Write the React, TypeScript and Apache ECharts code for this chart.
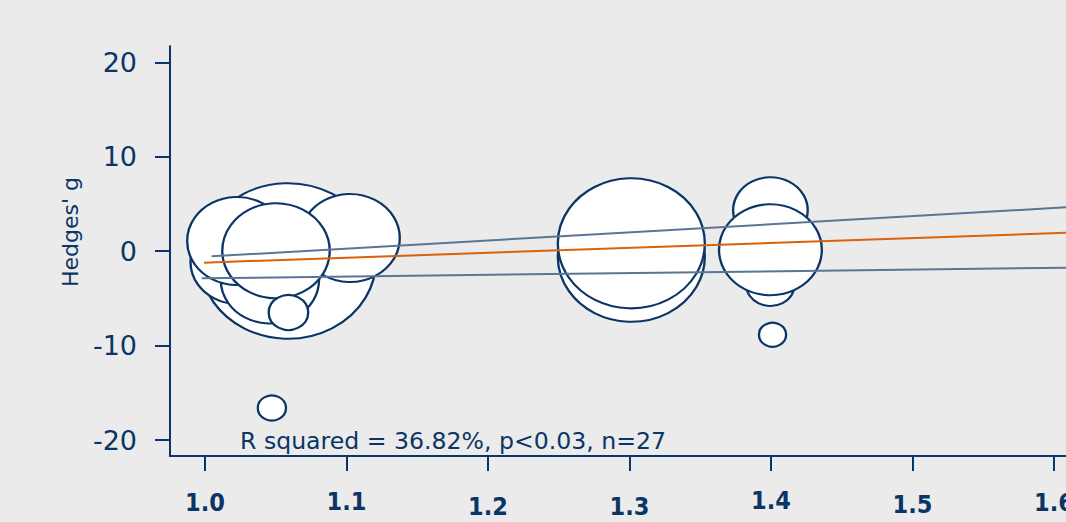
import React, { useEffect, useRef } from "react";
import * as echarts from "echarts";

// ---- data ----
const xTickValues = [1.0, 1.1, 1.2, 1.3, 1.4, 1.5, 1.6];
const yTickValues = [-20, -10, 0, 10, 20];

// studies (listed back-to-front)
const studyX = [1.0587, 1.0233, 1.0459, 1.0226, 1.1025, 1.0502, 1.0590, 1.0473, 1.3013, 1.3013, 1.3996, 1.3996, 1.3996, 1.4011];
const studyY = [-1.04, -1.15, -3.06, 1.07, 1.39, 0.04, -6.5, -16.61, -0.59, 0.83, 4.33, -3.53, 0.15, -8.85];
const studyWeight = [60.5, 17.6, 18.9, 19.4, 19.4, 22.6, 3.06, 1.56, 42.3, 42.3, 10.9, 4.62, 20.7, 1.44];

// meta-regression fit and confidence bounds (end points)
const fitX = [0.9993, 1.6085];
const fitY = [-1.22, 1.95];
const ciUpperX = [1.0047, 1.6085];
const ciUpperY = [-0.55, 4.64];
const ciLowerX = [0.9977, 1.6085];
const ciLowerY = [-2.88, -1.75];

const yAxisTitle = "Hedges' g";
const annotation = "R squared = 36.82%, p<0.03, n=27";

export default function App() {
  const ref = useRef<HTMLDivElement>(null);

  useEffect(() => {
    if (!ref.current) return;
    const chart = echarts.init(ref.current, null, { renderer: "svg" });
    const navy = "#0b3566";
    const labelShift = [2, 1, 6, 6, 0, 4, 2];
    const rich: Record<string, any> = {};
    labelShift.forEach((s, i) => {
      rich["j" + i] = {
        fontFamily: '"Liberation Sans Narrow", "DejaVu Sans Condensed", sans-serif',
        fontWeight: "bold",
        fontSize: 25,
        color: navy,
        padding: [s, 0, 0, 0],
      };
    });

    const bubbleData = studyX.map((x, i) => {
      const h = 20 * Math.sqrt(studyWeight[i]);
      return { value: [x, studyY[i]], symbolSize: [h * 1.13, h] };
    });

    chart.setOption({
      animation: false,
      backgroundColor: "#ebebeb",
      grid: { left: 170, top: 46.2, width: 954.75, height: 409.9, containLabel: false },
      xAxis: {
        type: "value",
        min: 0.9753,
        max: 1.65,
        splitLine: { show: false },
        axisLine: { show: true, onZero: false, lineStyle: { color: navy, width: 2 } },
        axisTick: { show: true, length: 15, customValues: xTickValues, lineStyle: { color: navy, width: 2 } },
        axisLabel: {
          customValues: xTickValues,
          margin: 32,
          formatter: (v: number) => {
            const idx = xTickValues.findIndex((t) => Math.abs(t - v) < 1e-6);
            return "{j" + Math.max(idx, 0) + "|" + v.toFixed(1) + "}";
          },
          rich,
        },
      },
      yAxis: {
        type: "value",
        min: -21.7,
        max: 21.7,
        splitLine: { show: false },
        axisLine: { show: true, onZero: false, lineStyle: { color: navy, width: 2 } },
        axisTick: { show: true, length: 15, customValues: yTickValues, lineStyle: { color: navy, width: 2 } },
        axisLabel: {
          customValues: yTickValues,
          margin: 33,
          color: navy,
          fontSize: 27,
          fontFamily: '"DejaVu Sans", sans-serif',
        },
      },
      graphic: [
        {
          type: "text",
          x: 70,
          y: 232,
          rotation: Math.PI / 2,
          style: {
            text: yAxisTitle,
            fill: navy,
            fontSize: 22,
            fontFamily: '"DejaVu Sans", sans-serif',
            textAlign: "center",
            textVerticalAlign: "middle",
          },
        },
        {
          type: "text",
          x: 240,
          y: 441,
          z: 100,
          style: {
            text: annotation,
            fill: navy,
            fontSize: 23.6,
            fontFamily: '"DejaVu Sans", sans-serif',
            textAlign: "left",
            textVerticalAlign: "middle",
          },
        },
      ],
      series: [
        {
          type: "scatter",
          symbol: "circle",
          data: bubbleData,
          itemStyle: { color: "#ffffff", borderColor: navy, borderWidth: 2.2, opacity: 1 },
          z: 2,
        },
        {
          type: "line",
          data: ciUpperX.map((x, i) => [x, ciUpperY[i]]),
          showSymbol: false,
          symbol: "none",
          lineStyle: { color: "#5b7594", width: 2 },
          z: 3,
        },
        {
          type: "line",
          data: ciLowerX.map((x, i) => [x, ciLowerY[i]]),
          showSymbol: false,
          symbol: "none",
          lineStyle: { color: "#5b7594", width: 2 },
          z: 3,
        },
        {
          type: "line",
          data: fitX.map((x, i) => [x, fitY[i]]),
          showSymbol: false,
          symbol: "none",
          lineStyle: { color: "#d9620c", width: 2 },
          z: 4,
        },
      ],
    });
    return () => chart.dispose();
  }, []);

  return (
    <div
      style={{
        position: "fixed",
        left: 0,
        top: 0,
        width: 1066,
        height: 522,
        overflow: "hidden",
        background: "#ebebeb",
      }}
    >
      <div ref={ref} style={{ width: 1140, height: 522 }} />
    </div>
  );
}
